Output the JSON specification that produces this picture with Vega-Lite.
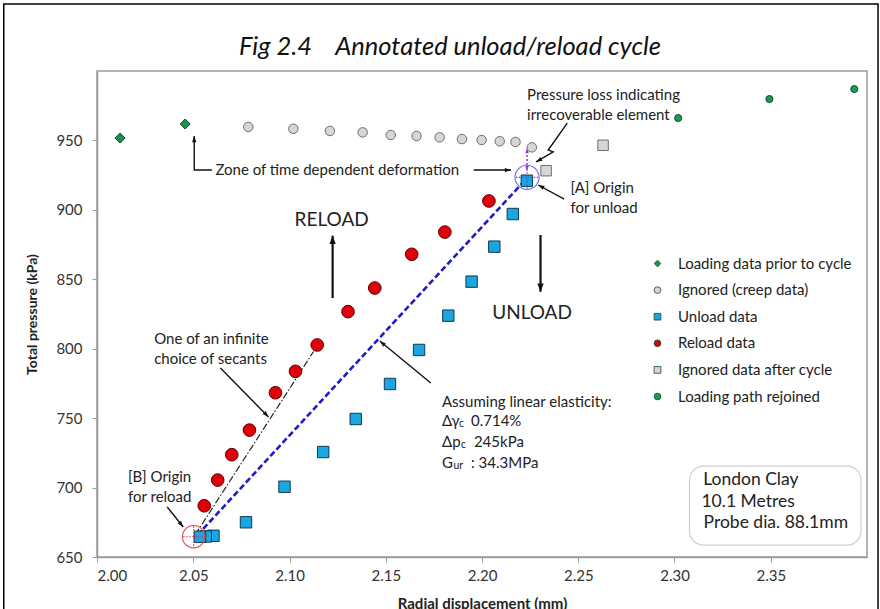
{
  "$schema": "https://vega.github.io/schema/vega-lite/v6.json",
  "width": 770,
  "height": 486,
  "autosize": {"type": "none"},
  "padding": {"left": 97, "top": 71, "right": 13, "bottom": 52},
  "background": "white",
  "title": {
    "text": "Fig 2.4\u00a0\u00a0\u00a0\u00a0Annotated unload/reload cycle",
    "anchor": "middle",
    "frame": "group",
    "dx": -32,
    "offset": -77,
    "baseline": "alphabetic",
    "font": "Lato",
    "fontSize": 25.5,
    "fontStyle": "italic",
    "fontWeight": "normal",
    "color": "#111"
  },
  "config": {
    "view": {"stroke": "#9a9a9a", "strokeWidth": 1.5},
    "axis": {
      "grid": false,
      "labelFont": "Lato",
      "labelFontSize": 15,
      "labelColor": "#333",
      "titleFont": "Lato",
      "titleFontWeight": "bold",
      "titleColor": "#222",
      "domainColor": "#9a9a9a",
      "domainWidth": 1.5,
      "tickColor": "#9a9a9a",
      "tickSize": 5
    }
  },
  "datasets": {
    "pts": [
      {"series": "Loading data prior to cycle", "x": 2.012, "y": 951.7},
      {"series": "Loading data prior to cycle", "x": 2.0458, "y": 961.8},
      {"series": "Ignored (creep data)", "x": 2.0786, "y": 959.7},
      {"series": "Ignored (creep data)", "x": 2.102, "y": 958.4},
      {"series": "Ignored (creep data)", "x": 2.121, "y": 956.8},
      {"series": "Ignored (creep data)", "x": 2.138, "y": 955.8},
      {"series": "Ignored (creep data)", "x": 2.1526, "y": 953.9},
      {"series": "Ignored (creep data)", "x": 2.166, "y": 953.2},
      {"series": "Ignored (creep data)", "x": 2.178, "y": 952.2},
      {"series": "Ignored (creep data)", "x": 2.1896, "y": 951.0},
      {"series": "Ignored (creep data)", "x": 2.1998, "y": 950.3},
      {"series": "Ignored (creep data)", "x": 2.2092, "y": 949.4},
      {"series": "Ignored (creep data)", "x": 2.2174, "y": 948.9},
      {"series": "Ignored (creep data)", "x": 2.2259, "y": 945.0},
      {"series": "Unload data", "x": 2.2233, "y": 921.0},
      {"series": "Unload data", "x": 2.216, "y": 897.0},
      {"series": "Unload data", "x": 2.2064, "y": 873.5},
      {"series": "Unload data", "x": 2.1946, "y": 848.3},
      {"series": "Unload data", "x": 2.1825, "y": 823.8},
      {"series": "Unload data", "x": 2.1673, "y": 799.1},
      {"series": "Unload data", "x": 2.1522, "y": 774.6},
      {"series": "Unload data", "x": 2.1344, "y": 749.4},
      {"series": "Unload data", "x": 2.1175, "y": 725.6},
      {"series": "Unload data", "x": 2.0974, "y": 700.6},
      {"series": "Unload data", "x": 2.0774, "y": 675.0},
      {"series": "Unload data", "x": 2.0605, "y": 665.3},
      {"series": "Unload data", "x": 2.0565, "y": 664.8},
      {"series": "Unload data", "x": 2.0535, "y": 664.6},
      {"series": "Reload data", "x": 2.0557, "y": 686.9},
      {"series": "Reload data", "x": 2.0627, "y": 705.4},
      {"series": "Reload data", "x": 2.07, "y": 723.7},
      {"series": "Reload data", "x": 2.0792, "y": 741.4},
      {"series": "Reload data", "x": 2.0927, "y": 768.3},
      {"series": "Reload data", "x": 2.1031, "y": 783.7},
      {"series": "Reload data", "x": 2.1144, "y": 802.7},
      {"series": "Reload data", "x": 2.1304, "y": 826.7},
      {"series": "Reload data", "x": 2.1443, "y": 843.7},
      {"series": "Reload data", "x": 2.1635, "y": 868.0},
      {"series": "Reload data", "x": 2.1807, "y": 884.0},
      {"series": "Reload data", "x": 2.2036, "y": 906.4},
      {"series": "Ignored data after cycle", "x": 2.2333, "y": 928.2},
      {"series": "Ignored data after cycle", "x": 2.2629, "y": 946.5},
      {"series": "Loading path rejoined", "x": 2.3019, "y": 966.1},
      {"series": "Loading path rejoined", "x": 2.3493, "y": 979.8},
      {"series": "Loading path rejoined", "x": 2.3934, "y": 987.0}
    ],
    "arrows": [
      {"a": "zone_up", "i": 0, "x": 2.0597, "y": 928.7},
      {"a": "zone_up", "i": 1, "x": 2.0505, "y": 928.7},
      {"a": "zone_up", "i": 2, "x": 2.0505, "y": 953.2},
      {"a": "zone_right", "i": 0, "x": 2.1957, "y": 928.7},
      {"a": "zone_right", "i": 1, "x": 2.2151, "y": 928.7},
      {"a": "reload", "i": 0, "x": 2.1224, "y": 836.5},
      {"a": "reload", "i": 1, "x": 2.1224, "y": 881.4},
      {"a": "unload", "i": 0, "x": 2.2304, "y": 881.9},
      {"a": "unload", "i": 1, "x": 2.2304, "y": 841.0},
      {"a": "secants", "i": 0, "x": 2.0641, "y": 786.1},
      {"a": "secants", "i": 1, "x": 2.0891, "y": 750.8},
      {"a": "assuming", "i": 0, "x": 2.1734, "y": 775.3},
      {"a": "assuming", "i": 1, "x": 2.1469, "y": 805.5},
      {"a": "originA", "i": 0, "x": 2.2427, "y": 907.8},
      {"a": "originA", "i": 1, "x": 2.2292, "y": 917.9},
      {"a": "originB", "i": 0, "x": 2.0365, "y": 686.0},
      {"a": "originB", "i": 1, "x": 2.0448, "y": 671.6},
      {"a": "zigzag", "i": 0, "x": 2.2443, "y": 962.5},
      {"a": "zigzag", "i": 1, "x": 2.2344, "y": 943.1},
      {"a": "zigzag", "i": 2, "x": 2.237, "y": 941.7},
      {"a": "zigzag", "i": 3, "x": 2.2281, "y": 934.5}
    ],
    "notes": [
      {"t": "Zone of time dependent deformation", "x": 2.0615, "y": 928.7},
      {"t": "Pressure loss indicating", "x": 2.2234, "y": 982.7},
      {"t": "irrecoverable element", "x": 2.2234, "y": 968.3},
      {"t": "[A] Origin", "x": 2.246, "y": 915.5},
      {"t": "for unload", "x": 2.246, "y": 901.1},
      {"t": "One of an infinite", "x": 2.0297, "y": 807.0},
      {"t": "choice of secants", "x": 2.0297, "y": 792.6},
      {"t": "Assuming linear elasticity:", "x": 2.1792, "y": 761.6},
      {"t": "Δγ", "x": 2.1792, "y": 747.9},
      {"t": "0.714%", "x": 2.1943, "y": 747.9},
      {"t": "Δp", "x": 2.1792, "y": 732.8},
      {"t": "245kPa", "x": 2.1958, "y": 732.8},
      {"t": "G", "x": 2.1792, "y": 717.7},
      {"t": ": 34.3MPa", "x": 2.1943, "y": 717.7},
      {"t": "[B] Origin", "x": 2.0161, "y": 707.6},
      {"t": "for reload", "x": 2.0161, "y": 693.2}
    ]
  },
  "layer": [
    {
      "data": {"values": [{"x": 1.95156, "x2": 2.40573, "y": 1048.3, "y2": 604.6}]},
      "mark": {"type": "rect", "fill": null, "stroke": "#000", "strokeWidth": 1.5},
      "encoding": {
        "x": {"field": "x", "type": "quantitative", "scale": {"domain": [2.0, 2.4], "nice": false, "zero": false},
          "title": "Radial displacement (mm)",
          "axis": {"values": [2.0, 2.05, 2.1, 2.15, 2.2, 2.25, 2.3, 2.35], "format": ".2f", "labelPadding": 6, "titlePadding": 13, "titleFontSize": 15}},
        "x2": {"field": "x2"},
        "y": {"field": "y", "type": "quantitative", "scale": {"domain": [650, 1000], "nice": false, "zero": false},
          "title": "Total pressure (kPa)",
          "axis": {"values": [650, 700, 750, 800, 850, 900, 950], "labelPadding": 10, "titlePadding": 16, "titleFontSize": 14}},
        "y2": {"field": "y2"}
      }
    },
    {
      "data": {"values": [{"x": 2.3078, "x2": 2.3969, "y": 715.5, "y2": 658.6}]},
      "mark": {"type": "rect", "fill": "white", "stroke": "#cfcfcf", "strokeWidth": 1.2, "cornerRadius": 14},
      "encoding": {
        "x": {"field": "x", "type": "quantitative"},
        "x2": {"field": "x2"},
        "y": {"field": "y", "type": "quantitative"},
        "y2": {"field": "y2"}
      }
    },
    {
      "data": {"values": [
        {"t": "London Clay", "x": 2.3149, "y": 705.4},
        {"t": "10.1 Metres", "x": 2.314, "y": 689.8},
        {"t": "Probe dia. 88.1mm", "x": 2.3151, "y": 674.7}
      ]},
      "mark": {"type": "text", "align": "left", "baseline": "middle", "font": "Lato", "fontSize": 17.5, "color": "#222"},
      "encoding": {
        "x": {"field": "x", "type": "quantitative"},
        "y": {"field": "y", "type": "quantitative"},
        "text": {"field": "t"}
      }
    },
    {
      "data": {"values": [{"x": 2.052, "y": 665.5}, {"x": 2.2228, "y": 922.0}]},
      "mark": {"type": "line", "color": "#1c1ccc", "strokeWidth": 2.6, "strokeDash": [6, 3]},
      "encoding": {
        "x": {"field": "x", "type": "quantitative"},
        "y": {"field": "y", "type": "quantitative"}
      }
    },
    {
      "data": {"values": [{"x": 2.051, "y": 666.0}, {"x": 2.1125, "y": 798.0}]},
      "mark": {"type": "line", "color": "#222", "strokeWidth": 1.2, "strokeDash": [7, 2, 1.5, 2]},
      "encoding": {
        "x": {"field": "x", "type": "quantitative"},
        "y": {"field": "y", "type": "quantitative"}
      }
    },
    {
      "data": {"name": "pts"},
      "transform": [{"filter": "datum.series == 'Loading data prior to cycle'"}],
      "mark": {"type": "point", "filled": true, "size": 100, "stroke": "#0b4d25", "strokeWidth": 1, "opacity": 1},
      "encoding": {
        "x": {"field": "x", "type": "quantitative"},
        "y": {"field": "y", "type": "quantitative"},
        "color": {"field": "series", "type": "nominal"},
        "shape": {"field": "series", "type": "nominal"}
      }
    },
    {
      "data": {"name": "pts"},
      "transform": [{"filter": "datum.series == 'Ignored (creep data)'"}],
      "mark": {"type": "point", "filled": true, "size": 90, "stroke": "#6e6e6e", "strokeWidth": 1, "opacity": 1},
      "encoding": {
        "x": {"field": "x", "type": "quantitative"},
        "y": {"field": "y", "type": "quantitative"},
        "color": {"field": "series", "type": "nominal"},
        "shape": {"field": "series", "type": "nominal"}
      }
    },
    {
      "data": {"name": "pts"},
      "transform": [{"filter": "datum.series == 'Unload data'"}],
      "mark": {"type": "point", "filled": true, "size": 130, "stroke": "#14384f", "strokeWidth": 1, "opacity": 1},
      "encoding": {
        "x": {"field": "x", "type": "quantitative"},
        "y": {"field": "y", "type": "quantitative"},
        "color": {"field": "series", "type": "nominal"},
        "shape": {"field": "series", "type": "nominal"}
      }
    },
    {
      "data": {"name": "pts"},
      "transform": [{"filter": "datum.series == 'Reload data'"}],
      "mark": {"type": "point", "filled": true, "size": 160, "stroke": "#5a0000", "strokeWidth": 1, "opacity": 1},
      "encoding": {
        "x": {"field": "x", "type": "quantitative"},
        "y": {"field": "y", "type": "quantitative"},
        "color": {"field": "series", "type": "nominal"},
        "shape": {"field": "series", "type": "nominal"}
      }
    },
    {
      "data": {"name": "pts"},
      "transform": [{"filter": "datum.series == 'Ignored data after cycle'"}],
      "mark": {"type": "point", "filled": true, "size": 110, "stroke": "#6e6e6e", "strokeWidth": 1, "opacity": 1},
      "encoding": {
        "x": {"field": "x", "type": "quantitative"},
        "y": {"field": "y", "type": "quantitative"},
        "color": {"field": "series", "type": "nominal"},
        "shape": {"field": "series", "type": "nominal"}
      }
    },
    {
      "data": {"name": "pts"},
      "transform": [{"filter": "datum.series == 'Loading path rejoined'"}],
      "mark": {"type": "point", "filled": true, "size": 50, "stroke": "#0b4d25", "strokeWidth": 1, "opacity": 1},
      "encoding": {
        "x": {"field": "x", "type": "quantitative"},
        "y": {"field": "y", "type": "quantitative"},
        "color": {"field": "series", "type": "nominal",
          "scale": {"domain": ["Loading data prior to cycle", "Ignored (creep data)", "Unload data", "Reload data", "Ignored data after cycle", "Loading path rejoined"],
            "range": ["#1d8f4e", "#d6d6d6", "#1aa6e0", "#e0000a", "#d6d6d6", "#1f9a55"]},
          "legend": {"title": null, "orient": "none", "legendX": 553, "legendY": 185, "padding": 0, "labelLimit": 0,
            "labelFont": "Lato", "labelFontSize": 15, "labelColor": "#222", "symbolSize": 45,
            "rowPadding": 10.6, "labelOffset": 13, "symbolStrokeColor": "#444", "symbolStrokeWidth": 0.8}},
        "shape": {"field": "series", "type": "nominal",
          "scale": {"domain": ["Loading data prior to cycle", "Ignored (creep data)", "Unload data", "Reload data", "Ignored data after cycle", "Loading path rejoined"],
            "range": ["diamond", "circle", "square", "circle", "square", "circle"]},
          "legend": {"title": null, "orient": "none", "legendX": 553, "legendY": 185, "padding": 0, "labelLimit": 0,
            "labelFont": "Lato", "labelFontSize": 15, "labelColor": "#222", "symbolSize": 45,
            "rowPadding": 10.6, "labelOffset": 13, "symbolStrokeColor": "#444", "symbolStrokeWidth": 0.8}}
      }
    },
    {
      "data": {"values": [{"x": 2.2234, "y": 923.4}]},
      "mark": {"type": "point", "shape": "circle", "filled": false, "size": 580, "stroke": "#6a6ae8", "strokeWidth": 1.1, "opacity": 1},
      "encoding": {"x": {"field": "x", "type": "quantitative"}, "y": {"field": "y", "type": "quantitative"}}
    },
    {
      "data": {"values": [{"x": 2.2234, "y": 923.4}]},
      "mark": {"type": "point", "shape": "M-1,0L1,0M0,-1L0,1", "filled": false, "size": 500, "stroke": "#6a4ae0", "strokeWidth": 1.2, "strokeDash": [1.5, 1.5], "opacity": 1},
      "encoding": {"x": {"field": "x", "type": "quantitative"}, "y": {"field": "y", "type": "quantitative"}}
    },
    {
      "data": {"values": [{"x": 2.0502, "y": 664.6}]},
      "mark": {"type": "point", "shape": "circle", "filled": false, "size": 500, "stroke": "#e04848", "strokeWidth": 1.1, "opacity": 1},
      "encoding": {"x": {"field": "x", "type": "quantitative"}, "y": {"field": "y", "type": "quantitative"}}
    },
    {
      "data": {"values": [{"x": 2.0502, "y": 664.6}]},
      "mark": {"type": "point", "shape": "M-1,0L1,0M0,-1L0,1", "filled": false, "size": 440, "stroke": "#e03040", "strokeWidth": 1.2, "strokeDash": [1.5, 1.5], "opacity": 1},
      "encoding": {"x": {"field": "x", "type": "quantitative"}, "y": {"field": "y", "type": "quantitative"}}
    },
    {
      "data": {"values": [{"x": 2.2234, "y": 929.5}, {"x": 2.2234, "y": 943.5}]},
      "mark": {"type": "line", "color": "#9b30e0", "strokeWidth": 1.5, "strokeDash": [2, 2]},
      "encoding": {"x": {"field": "x", "type": "quantitative"}, "y": {"field": "y", "type": "quantitative"}}
    },
    {
      "data": {"values": [{"x": 2.2234, "y": 944.5}]},
      "mark": {"type": "point", "shape": "M0,0L0.55,1.6L-0.55,1.6Z", "filled": true, "size": 40, "color": "#9b30e0", "opacity": 1, "angle": 0},
      "encoding": {"x": {"field": "x", "type": "quantitative"}, "y": {"field": "y", "type": "quantitative"}}
    },
    {
      "data": {"values": [{"x": 2.2234, "y": 928.0}]},
      "mark": {"type": "point", "shape": "M0,0L0.55,1.6L-0.55,1.6Z", "filled": true, "size": 40, "color": "#9b30e0", "opacity": 1, "angle": 180},
      "encoding": {"x": {"field": "x", "type": "quantitative"}, "y": {"field": "y", "type": "quantitative"}}
    },
    {
      "data": {"name": "arrows"},
      "transform": [{"filter": "datum.a != 'reload' && datum.a != 'unload'"}],
      "mark": {"type": "line", "color": "#111", "strokeWidth": 1.4},
      "encoding": {
        "x": {"field": "x", "type": "quantitative"},
        "y": {"field": "y", "type": "quantitative"},
        "detail": {"field": "a"},
        "order": {"field": "i"}
      }
    },
    {
      "data": {"name": "arrows"},
      "transform": [{"filter": "datum.a == 'reload' || datum.a == 'unload'"}],
      "mark": {"type": "line", "color": "#111", "strokeWidth": 2.2},
      "encoding": {
        "x": {"field": "x", "type": "quantitative"},
        "y": {"field": "y", "type": "quantitative"},
        "detail": {"field": "a"},
        "order": {"field": "i"}
      }
    },
    {
      "data": {"name": "arrows"},
      "transform": [{"filter": "datum.a == 'zone_up' && datum.i == 2"}],
      "mark": {"type": "point", "shape": "M0,0L0.55,1.6L-0.55,1.6Z", "filled": true, "size": 60, "color": "#111", "opacity": 1, "angle": 0},
      "encoding": {"x": {"field": "x", "type": "quantitative"}, "y": {"field": "y", "type": "quantitative"}}
    },
    {
      "data": {"name": "arrows"},
      "transform": [{"filter": "datum.a == 'reload' && datum.i == 1"}],
      "mark": {"type": "point", "shape": "M0,0L0.6,1.6L-0.6,1.6Z", "filled": true, "size": 110, "color": "#111", "opacity": 1, "angle": 0},
      "encoding": {"x": {"field": "x", "type": "quantitative"}, "y": {"field": "y", "type": "quantitative"}}
    },
    {
      "data": {"name": "arrows"},
      "transform": [{"filter": "datum.a == 'unload' && datum.i == 1"}],
      "mark": {"type": "point", "shape": "M0,0L0.6,1.6L-0.6,1.6Z", "filled": true, "size": 110, "color": "#111", "opacity": 1, "angle": 180},
      "encoding": {"x": {"field": "x", "type": "quantitative"}, "y": {"field": "y", "type": "quantitative"}}
    },
    {
      "data": {"name": "arrows"},
      "transform": [{"filter": "datum.a == 'zone_right' && datum.i == 1"}],
      "mark": {"type": "point", "shape": "M0,0L0.55,1.6L-0.55,1.6Z", "filled": true, "size": 60, "color": "#111", "opacity": 1, "angle": 90},
      "encoding": {"x": {"field": "x", "type": "quantitative"}, "y": {"field": "y", "type": "quantitative"}}
    },
    {
      "data": {"name": "arrows"},
      "transform": [{"filter": "datum.a == 'secants' && datum.i == 1"}],
      "mark": {"type": "point", "shape": "M0,0L0.55,1.6L-0.55,1.6Z", "filled": true, "size": 60, "color": "#111", "opacity": 1, "angle": 136},
      "encoding": {"x": {"field": "x", "type": "quantitative"}, "y": {"field": "y", "type": "quantitative"}}
    },
    {
      "data": {"name": "arrows"},
      "transform": [{"filter": "datum.a == 'assuming' && datum.i == 1"}],
      "mark": {"type": "point", "shape": "M0,0L0.55,1.6L-0.55,1.6Z", "filled": true, "size": 60, "color": "#111", "opacity": 1, "angle": 310},
      "encoding": {"x": {"field": "x", "type": "quantitative"}, "y": {"field": "y", "type": "quantitative"}}
    },
    {
      "data": {"name": "arrows"},
      "transform": [{"filter": "datum.a == 'originA' && datum.i == 1"}],
      "mark": {"type": "point", "shape": "M0,0L0.55,1.6L-0.55,1.6Z", "filled": true, "size": 60, "color": "#111", "opacity": 1, "angle": 298},
      "encoding": {"x": {"field": "x", "type": "quantitative"}, "y": {"field": "y", "type": "quantitative"}}
    },
    {
      "data": {"name": "arrows"},
      "transform": [{"filter": "datum.a == 'originB' && datum.i == 1"}],
      "mark": {"type": "point", "shape": "M0,0L0.55,1.6L-0.55,1.6Z", "filled": true, "size": 60, "color": "#111", "opacity": 1, "angle": 141},
      "encoding": {"x": {"field": "x", "type": "quantitative"}, "y": {"field": "y", "type": "quantitative"}}
    },
    {
      "data": {"name": "arrows"},
      "transform": [{"filter": "datum.a == 'zigzag' && datum.i == 3"}],
      "mark": {"type": "point", "shape": "M0,0L0.55,1.6L-0.55,1.6Z", "filled": true, "size": 60, "color": "#111", "opacity": 1, "angle": 240},
      "encoding": {"x": {"field": "x", "type": "quantitative"}, "y": {"field": "y", "type": "quantitative"}}
    },
    {
      "data": {"name": "notes"},
      "mark": {"type": "text", "align": "left", "baseline": "middle", "font": "Lato", "fontSize": 15, "color": "#222"},
      "encoding": {
        "x": {"field": "x", "type": "quantitative"},
        "y": {"field": "y", "type": "quantitative"},
        "text": {"field": "t"}
      }
    },
    {
      "data": {"values": [
        {"t": "c", "x": 2.188, "y": 747.9},
        {"t": "c", "x": 2.1891, "y": 732.8},
        {"t": "ur", "x": 2.1852, "y": 717.7}
      ]},
      "mark": {"type": "text", "align": "left", "baseline": "middle", "font": "Lato", "fontSize": 10.5, "dy": 3, "color": "#222"},
      "encoding": {
        "x": {"field": "x", "type": "quantitative"},
        "y": {"field": "y", "type": "quantitative"},
        "text": {"field": "t"}
      }
    },
    {
      "data": {"values": [
        {"t": "RELOAD", "x": 2.1219, "y": 892.8},
        {"t": "UNLOAD", "x": 2.226, "y": 825.5}
      ]},
      "mark": {"type": "text", "align": "center", "baseline": "middle", "font": "Lato", "fontSize": 19, "color": "#222"},
      "encoding": {
        "x": {"field": "x", "type": "quantitative"},
        "y": {"field": "y", "type": "quantitative"},
        "text": {"field": "t"}
      }
    }
  ]
}
